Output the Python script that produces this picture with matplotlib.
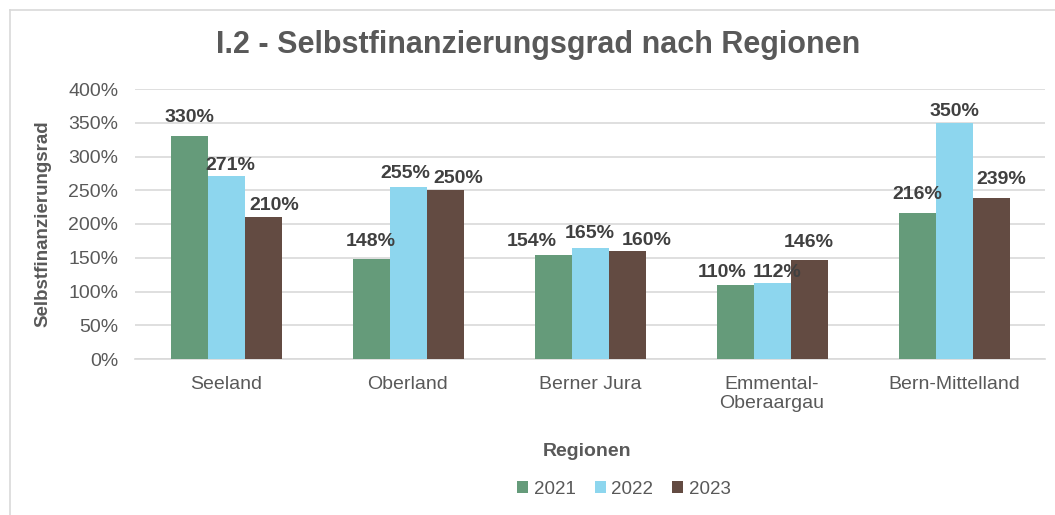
import matplotlib

matplotlib.use("Agg")
import matplotlib.pyplot as plt
import numpy as np
from matplotlib.lines import Line2D

regions = ["Seeland", "Oberland", "Berner Jura", "Emmental-\nOberaargau", "Bern-Mittelland"]
years = ["2021", "2022", "2023"]
values_2021 = [330, 148, 154, 110, 216]
values_2022 = [271, 255, 165, 112, 350]
values_2023 = [210, 250, 160, 146, 239]
yticks = [0, 50, 100, 150, 200, 250, 300, 350, 400]

COLORS = ["#659B7A", "#8DD6EE", "#634B42"]
GRID = "#D9D9D9"
TICK_COLOR = "#595959"
LABEL_COLOR = "#404040"

# label nudges in pixels (dx, dy above bar top), mimicking the hand-placed Excel labels
LABEL_NUDGE = [
    [(0, 14), (0, 13), (-21, 9), (-13, 8), (0, 14)],
    [(4, 6), (-3, 9), (0, 10), (5, 6), (0, 7)],
    [(11, 7), (13, 7), (20, 6), (0, 13), (10, 14)],
]

plt.rcParams["font.family"] = ["Liberation Sans", "DejaVu Sans"]

fig = plt.figure(figsize=(10.55, 5.15), dpi=100)
ax = fig.add_axes([135 / 1055, 1 - 359 / 515, 910 / 1055, 270 / 515])

x = np.arange(len(regions))
width = 37 / 182
series = [values_2021, values_2022, values_2023]
for i, (vals, color, year) in enumerate(zip(series, COLORS, years)):
    pos = x + (i - 1) * width
    ax.bar(pos, vals, width=width, color=color, label=year, zorder=3)
    for j, (xp, v) in enumerate(zip(pos, vals)):
        dx, dy = LABEL_NUDGE[i][j]
        ax.annotate(f"{v}%", (xp, v), xytext=(dx * 0.72, dy * 0.72),
                    textcoords="offset points", ha="center", va="baseline",
                    fontsize=14, fontweight="bold", color=LABEL_COLOR, zorder=4)

ax.set_xlim(-0.5, len(regions) - 0.5)
ax.set_ylim(0, 400)
ax.set_yticks(yticks)
ax.set_yticklabels([f"{t}%" for t in yticks])
ax.set_xticks(x)
ax.set_xticklabels(regions)
ax.grid(axis="y", color=GRID, linewidth=1.2, zorder=0)
for side in ["top", "right", "left"]:
    ax.spines[side].set_visible(False)
ax.spines["bottom"].set_color(GRID)
ax.spines["bottom"].set_linewidth(1.2)
ax.tick_params(axis="both", length=0, labelsize=14, colors=TICK_COLOR)
ax.tick_params(axis="y", pad=12)
ax.tick_params(axis="x", pad=12)

ax.set_ylabel("Selbstfinanzierungsrad", fontsize=13.5, fontweight="bold",
              color=TICK_COLOR, labelpad=12)
fig.text(587 / 1055, 1 - 451 / 515, "Regionen", ha="center", va="center",
         fontsize=14, fontweight="bold", color=TICK_COLOR)
fig.text(538 / 1055, 1 - 45 / 515, "I.2 - Selbstfinanzierungsgrad nach Regionen",
         ha="center", va="center", fontsize=22, fontweight="bold", color="#595959")

leg = fig.legend(loc="center", bbox_to_anchor=(624 / 1055, 1 - 489 / 515), ncol=3,
                 frameon=False, fontsize=13.5, handlelength=0.6, handleheight=0.6,
                 handletextpad=0.3, columnspacing=1.0)
for t in leg.get_texts():
    t.set_color(TICK_COLOR)

# chart border (left and top only visible inside the crop)
fig.add_artist(Line2D([10 / 1055, 10 / 1055], [0, 1 - 10 / 515], transform=fig.transFigure,
                      color=GRID, linewidth=1.2))
fig.add_artist(Line2D([10 / 1055, 1], [1 - 10 / 515, 1 - 10 / 515], transform=fig.transFigure,
                      color=GRID, linewidth=1.2))

fig.savefig("out.png", dpi=100)
plt.close(fig)
